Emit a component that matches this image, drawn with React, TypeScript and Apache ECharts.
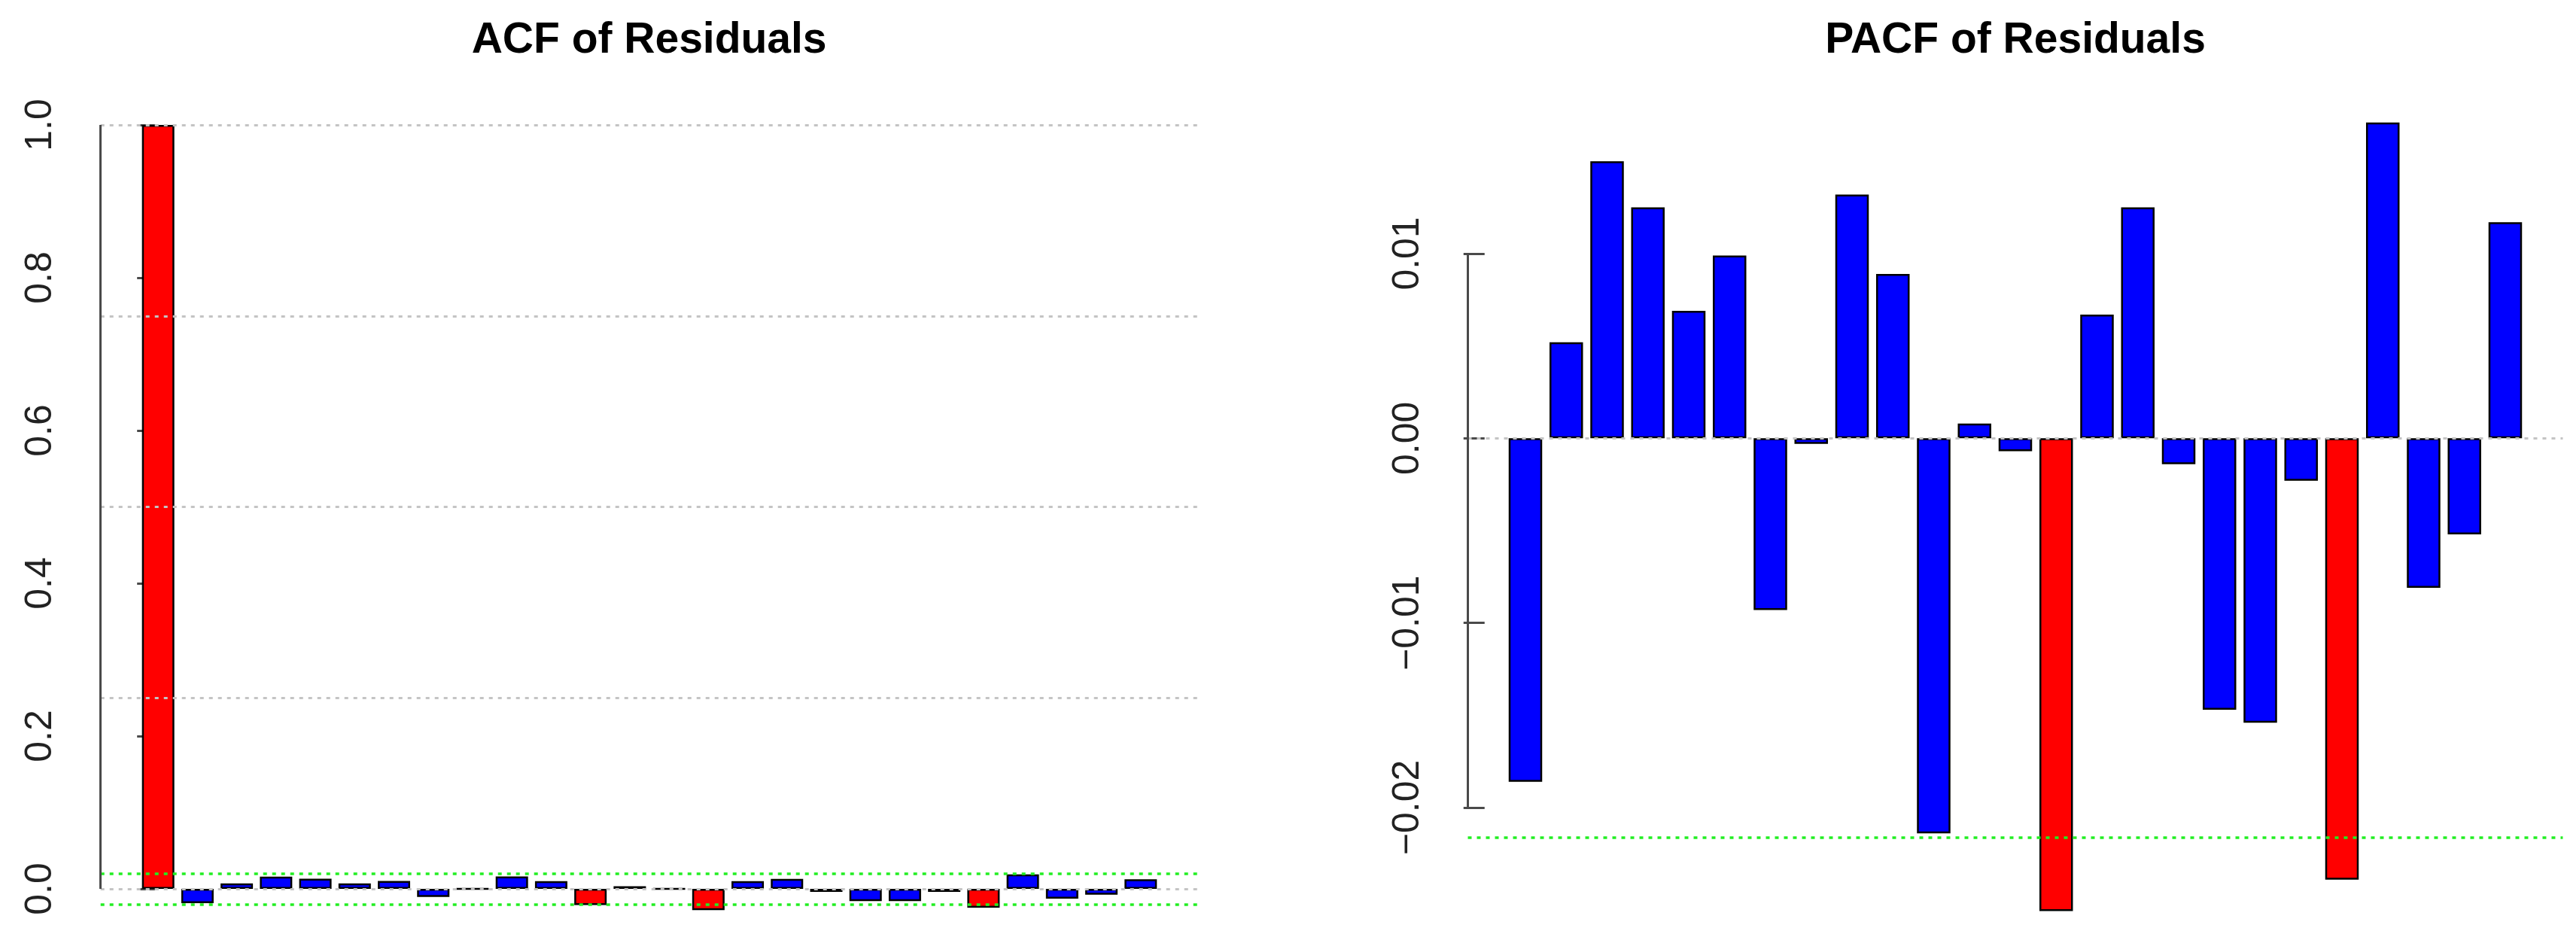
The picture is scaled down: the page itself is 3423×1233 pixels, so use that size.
import React, { useEffect, useRef } from "react";
import * as echarts from "echarts";

// ---------- data ----------
const ACF_LAGS = [0, 1, 2, 3, 4, 5, 6, 7, 8, 9, 10, 11, 12, 13, 14, 15, 16, 17, 18, 19, 20, 21, 22, 23, 24, 25];
const ACF_VALUES = [
  1.0, -0.0187, 0.0072, 0.0161, 0.0133, 0.0072, 0.0103, -0.0105, 0.0002, 0.0162,
  0.0102, -0.0212, 0.0035, 0.0002, -0.0279, 0.0102, 0.0131, -0.0040, -0.0161, -0.0161,
  -0.0040, -0.0246, 0.0190, -0.0128, -0.0076, 0.0125,
];
const PACF_LAGS = [1, 2, 3, 4, 5, 6, 7, 8, 9, 10, 11, 12, 13, 14, 15, 16, 17, 18, 19, 20, 21, 22, 23, 24, 25];
const PACF_VALUES = [
  -0.0186, 0.0052, 0.0150, 0.0125, 0.0069, 0.0099, -0.0093, -0.0003, 0.0132, 0.0089,
  -0.0214, 0.0008, -0.0007, -0.0256, 0.0067, 0.0125, -0.0014, -0.0147, -0.0154, -0.0023,
  -0.0239, 0.0171, -0.0081, -0.0052, 0.0117,
];
const ACF_TICKS = [0, 0.2, 0.4, 0.6, 0.8, 1.0];
const PACF_TICKS = [-0.02, -0.01, 0, 0.01];
const ACF_GRIDLINES = [0, 0.25, 0.5, 0.75, 1.0];
const PACF_GRIDLINES = [0];
const ACF_CI = 0.0204;
const PACF_CI = 0.0216;
const TITLES = ["ACF of Residuals", "PACF of Residuals"];

// ---------- styling ----------
const FONT = "'Liberation Sans', Arial, sans-serif";
const RED = "#FF0000";
const BLUE = "#0000FF";
const GRAY = "#C4C4C4";
const GREEN = "#22EE22";
const AXIS = "#4a4a4a";

const fmtTick = (digits: number) => (v: number) => {
  const s = Math.abs(v).toFixed(digits);
  return v < -1e-12 ? "\u2212" + s : s;
};

export default function App() {
  const ref = useRef<HTMLDivElement>(null);

  useEffect(() => {
    const chart = echarts.init(ref.current!, null, { renderer: "svg" });

    const panels = [
      {
        grid: { left: 133.7, top: 124, width: 1457.8, height: 1109 },
        x: { min: -1.464, max: 26.45 },
        y: { min: -0.0512, max: 1.0414 },
        lags: ACF_LAGS,
        values: ACF_VALUES,
        ticks: ACF_TICKS,
        gridlines: ACF_GRIDLINES,
        ci: ACF_CI,
        digits: 1,
        barWidth: 43,
      },
      {
        grid: { left: 1950.5, top: 121, width: 1455, height: 1112 },
        x: { min: -0.41, max: 26.41 },
        y: { min: -0.02652, max: 0.0188 },
        lags: PACF_LAGS,
        values: PACF_VALUES,
        ticks: PACF_TICKS,
        gridlines: PACF_GRIDLINES,
        ci: PACF_CI,
        digits: 2,
        barWidth: 44.5,
      },
    ];

    const option: any = {
      animation: false,
      backgroundColor: "#ffffff",
      grid: panels.map((p) => ({ ...p.grid, containLabel: false })),
      xAxis: panels.map((p, i) => ({
        type: "value",
        gridIndex: i,
        min: p.x.min,
        max: p.x.max,
        show: false,
      })),
      yAxis: panels.map((p, i) => ({
        type: "value",
        gridIndex: i,
        min: p.y.min,
        max: p.y.max,
        axisLine: { show: false },
        splitLine: { show: false },
        axisTick: {
          show: true,
          customValues: p.ticks,
          length: 28,
          lineStyle: { color: AXIS, width: 3 },
        },
        axisLabel: {
          show: true,
          customValues: p.ticks,
          rotate: 90,
          margin: 58,
          fontSize: 50,
          fontFamily: FONT,
          color: "#222",
          formatter: fmtTick(p.digits),
        },
      })),
      graphic: TITLES.map((t, i) => ({
        type: "text",
        x: panels[i].grid.left + panels[i].grid.width / 2,
        y: 50,
        style: {
          text: t,
          fontSize: 57,
          fontWeight: "bold",
          fontFamily: FONT,
          fill: "#000",
          align: "center",
          verticalAlign: "middle",
        },
      })),
      series: panels.map((p, i) => {
        const ciLines = [-p.ci, p.ci]
          .filter((v) => v > p.y.min && v < p.y.max)
          .map((v) => ({
            yAxis: v,
            lineStyle: { color: GREEN, width: 3.5, type: [5, 7] },
          }));
        const gridLines = p.gridlines.map((v) => ({
          yAxis: v,
          lineStyle: { color: GRAY, width: 3, type: [5, 7] },
        }));
        const axisLine = [
          { coord: [p.x.min, p.ticks[0]], lineStyle: { color: AXIS, width: 3, type: "solid" } },
          { coord: [p.x.min, p.ticks[p.ticks.length - 1]] },
        ];
        return {
          type: "bar",
          xAxisIndex: i,
          yAxisIndex: i,
          barWidth: p.barWidth,
          data: p.lags.map((lag, k) => [lag, p.values[k]]),
          itemStyle: {
            color: (params: any) => (Math.abs(params.value[1]) > p.ci ? RED : BLUE),
            borderColor: "#000",
            borderWidth: 2.5,
          },
          markLine: {
            silent: true,
            precision: 6,
            symbol: ["none", "none"],
            label: { show: false },
            emphasis: { disabled: true },
            data: [...gridLines, ...ciLines, axisLine],
          },
        };
      }),
    };

    chart.setOption(option);
    return () => chart.dispose();
  }, []);

  return (
    <div
      ref={ref}
      style={{ position: "absolute", left: 0, top: 0, width: 3423, height: 1233, background: "#fff" }}
    />
  );
}
